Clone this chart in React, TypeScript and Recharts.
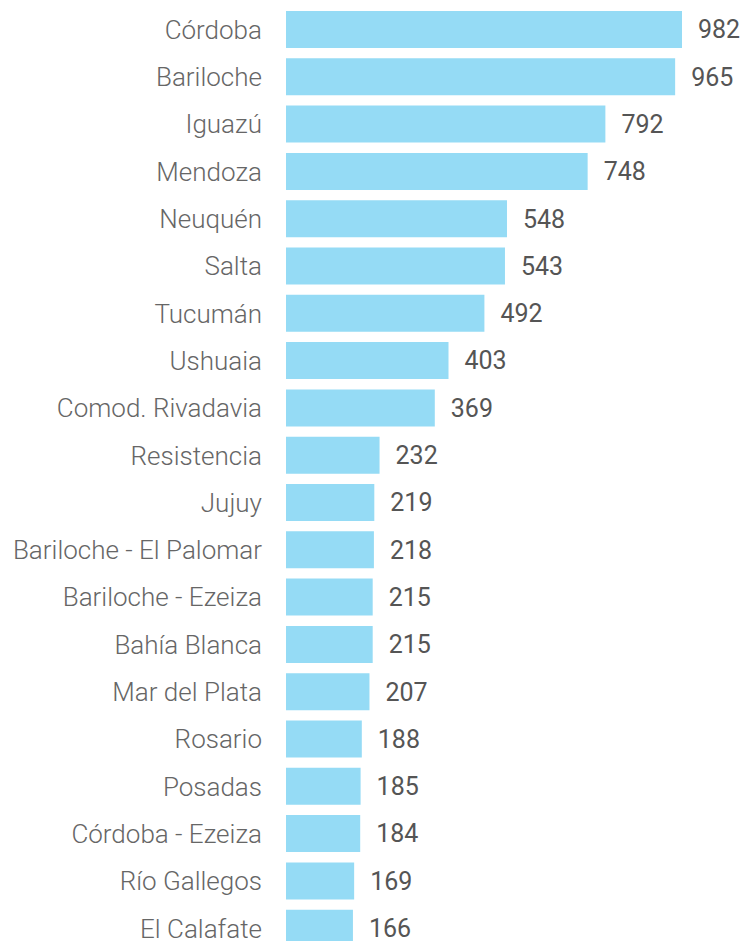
import { Bar, BarChart, LabelList, XAxis, YAxis } from "recharts"

const destinations = [
  "Córdoba",
  "Bariloche",
  "Iguazú",
  "Mendoza",
  "Neuquén",
  "Salta",
  "Tucumán",
  "Ushuaia",
  "Comod. Rivadavia",
  "Resistencia",
  "Jujuy",
  "Bariloche - El Palomar",
  "Bariloche - Ezeiza",
  "Bahía Blanca",
  "Mar del Plata",
  "Rosario",
  "Posadas",
  "Córdoba - Ezeiza",
  "Río Gallegos",
  "El Calafate",
]

const flights = [982, 965, 792, 748, 548, 543, 492, 403, 369, 232, 219, 218, 215, 215, 207, 188, 185, 184, 169, 166]

const data = destinations.map((name, i) => ({ name, value: flights[i] }))

export default function App() {
  return (
    <div style={{ position: "absolute", top: 0, left: 0, width: 742, height: 941, overflow: "hidden" }}>
      <BarChart
        width={742}
        height={955}
        data={data}
        layout="vertical"
        margin={{ top: 6, right: 60, bottom: 3, left: 0 }}
      >
        <XAxis type="number" domain={[0, 982]} hide />
        <YAxis
          type="category"
          dataKey="name"
          width={286}
          axisLine={false}
          tickLine={false}
          tickSize={0}
          tickMargin={24}
          interval={0}
          tick={{ fill: "#666666", fontSize: 26, fontFamily: "Roboto", fontWeight: 300 }}
        />
        <Bar dataKey="value" fill="#95dbf5" barSize={37} isAnimationActive={false}>
          <LabelList
            dataKey="value"
            position="right"
            offset={16}
            fill="#555555"
            fontSize={25}
            fontFamily="Roboto"
          />
        </Bar>
      </BarChart>
    </div>
  )
}
